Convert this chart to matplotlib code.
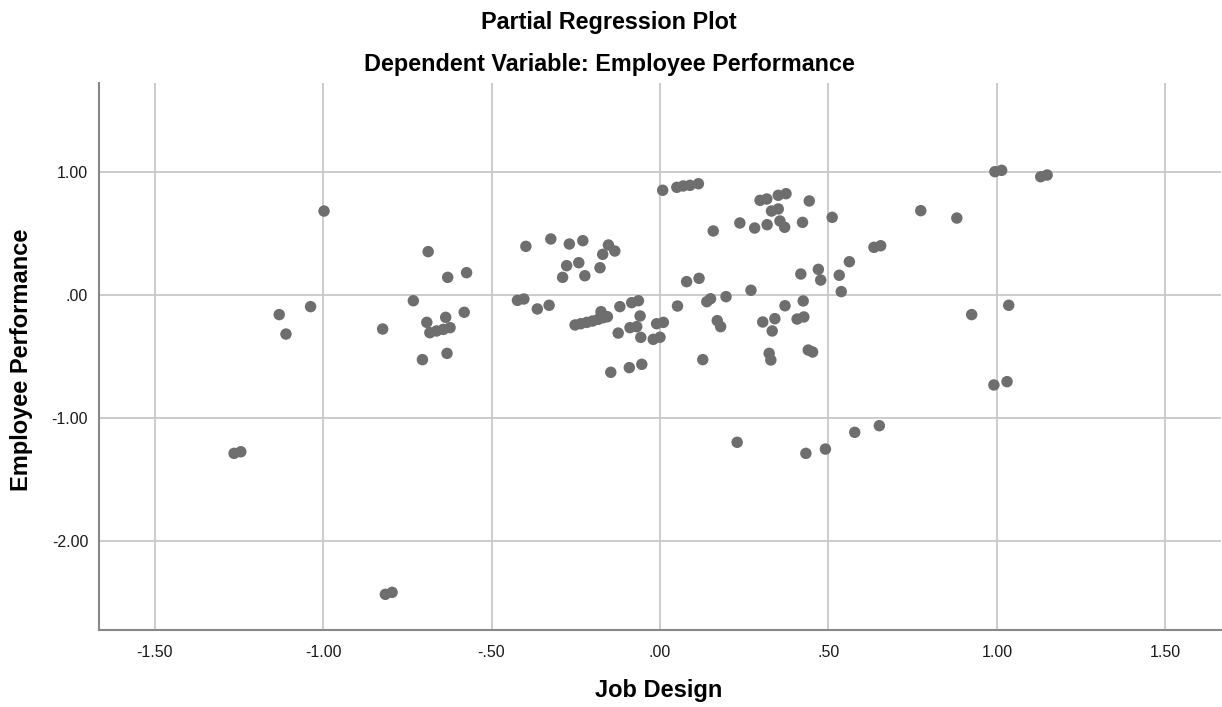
import matplotlib
matplotlib.use("Agg")
import matplotlib.pyplot as plt

title = "Partial Regression Plot"
subtitle = "Dependent Variable: Employee Performance"
x_label = "Job Design"
y_label = "Employee Performance"

x_ticks = [-1.5, -1.0, -0.5, 0.0, 0.5, 1.0, 1.5]
x_tick_labels = ["-1.50", "-1.00", "-.50", ".00", ".50", "1.00", "1.50"]
y_ticks = [-2.0, -1.0, 0.0, 1.0]
y_tick_labels = ["-2.00", "-1.00", ".00", "1.00"]

job_design = [
    -1.264, -1.244, -0.815, -0.795, -0.997, -0.688, -0.630, -0.574, -0.732,
    -1.130, -1.037, -1.110, -0.823, -0.692, -0.636, -0.581,
    -0.683, -0.663, -0.643, -0.623, -0.705, -0.632,
    0.008, 0.050, 0.069, 0.089, 0.114, 0.297, 0.317, 0.351, 0.374, 0.443,
    0.331, 0.351, 0.511, 0.158, 0.237, 0.281, 0.318, 0.356, 0.370, 0.423,
    -0.398, -0.324, -0.269, -0.229, -0.153, -0.134, -0.170, -0.277, -0.241,
    -0.289, -0.223, -0.178, 0.562, 0.418, 0.470, 0.477, 0.532, 0.538,
    0.079, 0.116, 0.270, -0.423, -0.404, -0.364, -0.329,
    -0.252, -0.235, -0.217, -0.200, -0.183, -0.168, -0.156, -0.175,
    -0.119, -0.084, -0.064, -0.059, -0.124, -0.089, -0.069, -0.057,
    -0.010, 0.010, -0.020, 0.000, -0.146, -0.091, -0.054, 0.052,
    0.139, 0.150, 0.196, 0.170, 0.180, 0.127, 0.305, 0.341, 0.333, 0.371,
    0.425, 0.407, 0.427, 0.324, 0.329, 0.440, 0.453,
    0.635, 0.655, 0.774, 0.881, 0.994, 1.014, 1.130, 1.149, 0.925, 1.035,
    0.991, 1.030, 0.229, 0.433, 0.491, 0.578, 0.651,
]
employee_performance = [
    -1.285, -1.272, -2.431, -2.415, 0.685, 0.355, 0.146, 0.184, -0.044,
    -0.157, -0.092, -0.315, -0.274, -0.220, -0.179, -0.138,
    -0.304, -0.290, -0.277, -0.263, -0.523, -0.472,
    0.854, 0.878, 0.889, 0.894, 0.907, 0.772, 0.783, 0.813, 0.826, 0.767,
    0.685, 0.702, 0.634, 0.523, 0.588, 0.547, 0.574, 0.604, 0.553, 0.593,
    0.398, 0.458, 0.417, 0.444, 0.409, 0.360, 0.333, 0.241, 0.265,
    0.146, 0.159, 0.224, 0.273, 0.173, 0.211, 0.124, 0.163, 0.030,
    0.111, 0.138, 0.041, -0.041, -0.030, -0.111, -0.081,
    -0.241, -0.231, -0.220, -0.209, -0.195, -0.182, -0.174, -0.133,
    -0.092, -0.060, -0.044, -0.168, -0.307, -0.263, -0.255, -0.342,
    -0.231, -0.220, -0.358, -0.341, -0.626, -0.588, -0.561, -0.087,
    -0.052, -0.028, -0.011, -0.206, -0.255, -0.523, -0.217, -0.190, -0.290, -0.085,
    -0.046, -0.193, -0.176, -0.472, -0.526, -0.445, -0.461,
    0.390, 0.403, 0.688, 0.628, 1.005, 1.016, 0.964, 0.978, -0.157, -0.081,
    -0.729, -0.702, -1.195, -1.285, -1.250, -1.114, -1.060,
]

plt.rcParams["font.family"] = ["Liberation Sans", "DejaVu Sans"]

W, H = 1222, 707
fig = plt.figure(figsize=(W / 100, H / 100), dpi=100)
ax = fig.add_axes([99.3 / W, 1 - 630 / H, (1221 - 99.3) / W, (630 - 83) / H])

ax.scatter(job_design, employee_performance, s=68, color="#6e6e6e",
           edgecolors="none", zorder=3)

ax.set_xlim(-1.664, 1.665)
ax.set_ylim(-2.721, 1.726)
ax.set_xticks(x_ticks)
ax.set_xticklabels(x_tick_labels)
ax.set_yticks(y_ticks)
ax.set_yticklabels(y_tick_labels)
ax.grid(True, color="#c8c8c8", linewidth=1.3, zorder=0)
ax.set_axisbelow(True)
ax.tick_params(axis="x", length=0, labelsize=11.5, colors="#1a1a1a", pad=11)
ax.tick_params(axis="y", length=0, labelsize=11.5, colors="#1a1a1a", pad=8)

for side in ["top", "right"]:
    ax.spines[side].set_visible(False)
for side in ["left", "bottom"]:
    ax.spines[side].set_color("#888888")
    ax.spines[side].set_linewidth(1.5)

fig.text(659 / W, 1 - 690 / H, x_label, ha="center", va="center",
         fontsize=17, fontweight="bold")
fig.text(22 / W, 1 - 360 / H, y_label, ha="center", va="center",
         rotation=90, fontsize=17, fontweight="bold")

fig.text(609 / W, 1 - 23 / H, title, ha="center", va="center",
         fontsize=16.8, fontweight="bold")
fig.text(609 / W, 1 - 64 / H, subtitle, ha="center", va="center",
         fontsize=16.8, fontweight="bold")

fig.savefig("out.png", dpi=100)
